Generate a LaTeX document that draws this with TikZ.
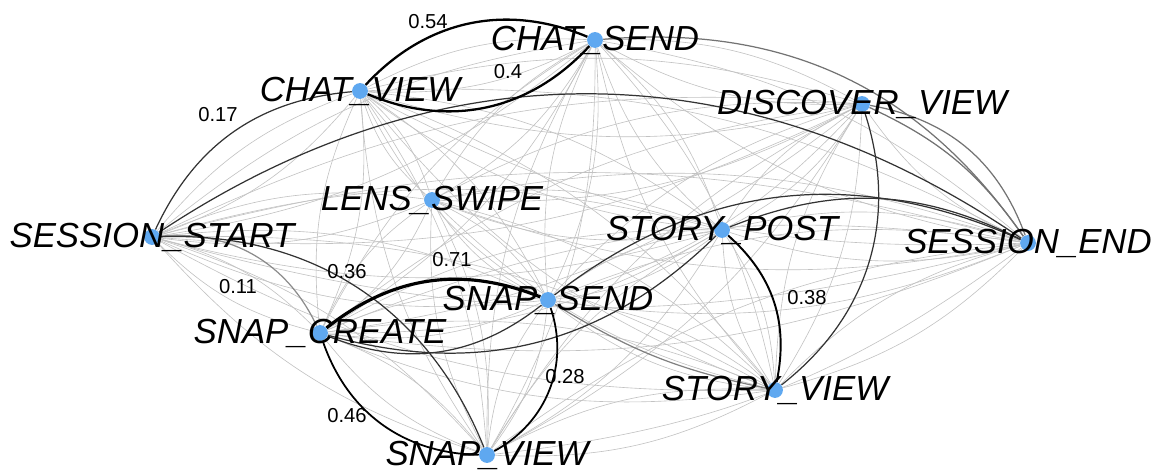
\documentclass[tikz,border=0pt]{standalone}
\usepackage{fontspec}
\setmainfont{Liberation Sans}
\usetikzlibrary{backgrounds}
\definecolor{dotblue}{RGB}{95,168,240}

\begin{document}
\begin{tikzpicture}[x=0.02cm,y=-0.02cm,
  dot/.style={circle,fill=dotblue,inner sep=0pt,minimum size=9pt},
  lbl/.style={font=\fontsize{19.8}{22}\selectfont\itshape,inner sep=0pt},
  wt/.style={font=\fontsize{11.5}{13}\selectfont,inner sep=0pt},
  faint/.style={draw=black!24,line width=0.35pt},
  mid/.style={draw=black!80,line width=0.7pt},
  heavy/.style={draw=black,line width=1.3pt}]
\useasboundingbox (0,0) rectangle (1159,472);
\node[dot] (chatsend) at (595,40) {};
\node[dot] (chatview) at (360,91) {};
\node[dot] (discoverview) at (862,104) {};
\node[dot] (lensswipe) at (432,200) {};
\node[dot] (sessionstart) at (152,237) {};
\node[dot] (storypost) at (722,230) {};
\node[dot] (sessionend) at (1028,243) {};
\node[dot] (snapsend) at (548,300) {};
\node[dot] (snapcreate) at (320,333) {};
\node[dot] (storyview) at (775,390) {};
\node[dot] (snapview) at (487,455) {};
\begin{pgfonlayer}{background}
\foreach \a in {chatsend,chatview,discoverview,lensswipe,sessionstart,storypost,sessionend,snapsend,snapcreate,storyview,snapview} {
  \foreach \b in {chatsend,chatview,discoverview,lensswipe,sessionstart,storypost,sessionend,snapsend,snapcreate,storyview,snapview} {
    \ifx\a\b\else\draw[faint] (\a) to[bend left=15] (\b);\fi
  }
}
\draw[mid,draw=black!55] (chatsend) to[bend left=30] (sessionend);
\draw[mid,draw=black!55] (discoverview) to[bend left=15] (sessionend);
\draw[mid,draw=black!55] (discoverview) to[bend left=30] (sessionend);
\draw[mid,draw=black!50] (snapsend) to[bend right=10] (storyview);
\draw[mid,draw=black!45] (sessionstart) to[bend left=35] (snapcreate);
\draw[mid] (sessionstart) to[bend left=30] (chatview);
\draw[mid] (sessionstart) to[bend left=34] (sessionend);
\draw[mid] (sessionstart) to[bend left=35] (snapview);
\draw[mid] (snapsend) to[bend left=30] (snapcreate);
\draw[mid] (snapcreate) to[bend right=30] (storypost);
\draw[mid] (snapsend) to[bend left=31] (sessionend);
\draw[mid] (storypost) to[bend left=24] (sessionend);
\draw[mid] (discoverview) to[bend left=35] (storyview);
\draw[heavy] (chatview) to[bend left=35] (chatsend);
\draw[heavy] (chatsend) to[bend left=35] (chatview);
\draw[heavy,line width=1.8pt] (snapcreate) to[bend left=30] (snapsend);
\draw[heavy,line width=1pt] (snapcreate) to[bend right=35] (snapview);
\draw[heavy,line width=1pt] (snapsend) to[bend left=40] (snapview);
\draw[heavy,line width=1.1pt] (storypost) to[bend left=30] (storyview);
\end{pgfonlayer}
\node[lbl] (chatsendtxt) at (chatsend) {CHAT\_SEND};
\node[lbl] (chatviewtxt) at (chatview) {CHAT\_VIEW};
\node[lbl] (discoverviewtxt) at (discoverview) {DISCOVER\_VIEW};
\node[lbl] (lensswipetxt) at (lensswipe) {LENS\_SWIPE};
\node[lbl] (sessionstarttxt) at (sessionstart) {SESSION\_START};
\node[lbl] (storyposttxt) at (storypost) {STORY\_POST};
\node[lbl] (sessionendtxt) at (sessionend) {SESSION\_END};
\node[lbl] (snapsendtxt) at (snapsend) {SNAP\_SEND};
\node[lbl] (snapcreatetxt) at (snapcreate) {SNAP\_CREATE};
\node[lbl] (storyviewtxt) at (storyview) {STORY\_VIEW};
\node[lbl] (snapviewtxt) at (snapview) {SNAP\_VIEW};
\node[wt] (w54) at (428,22) {0.54};
\node[wt] (w40) at (508,72) {0.4};
\node[wt] (w17) at (218,115) {0.17};
\node[wt] (w36) at (347,272) {0.36};
\node[wt] (w71) at (452,260) {0.71};
\node[wt] (w11) at (238,287) {0.11};
\node[wt] (w46) at (347,416) {0.46};
\node[wt] (w28) at (565,377) {0.28};
\node[wt] (w38) at (807,298) {0.38};
\end{tikzpicture}
\end{document}
